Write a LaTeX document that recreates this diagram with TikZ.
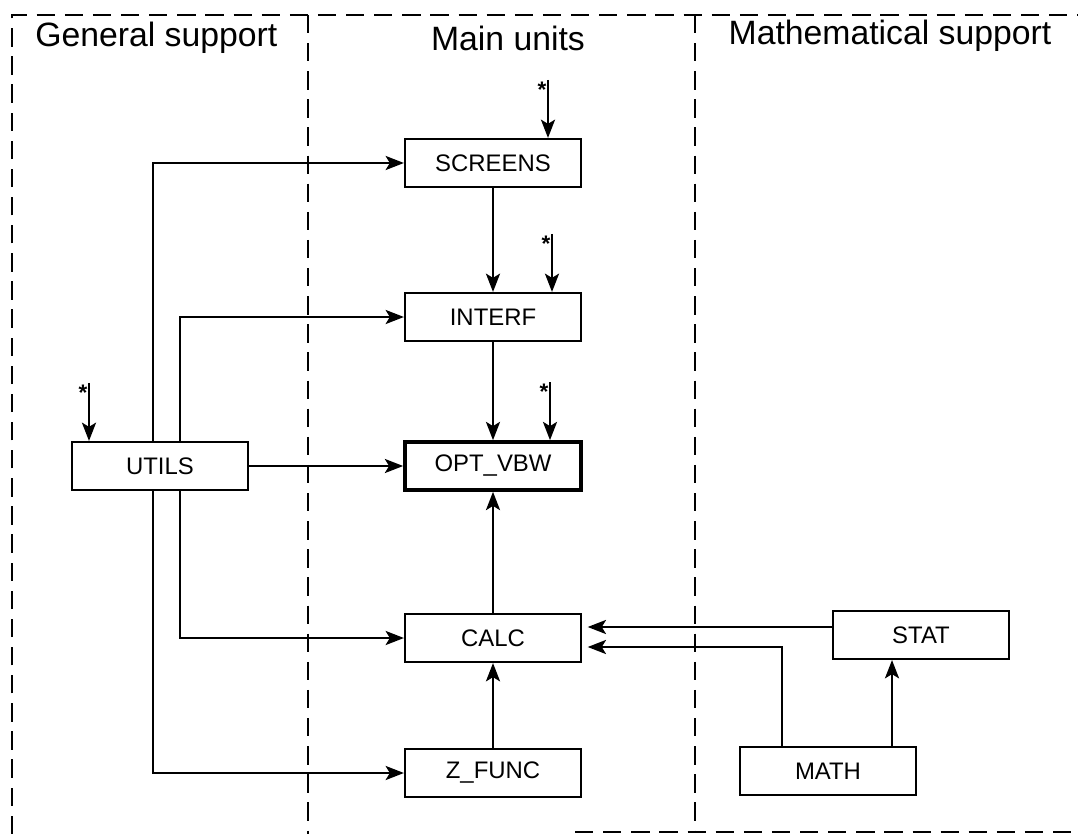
\documentclass[tikz,border=0pt]{standalone}
\usepackage{fontspec}
\setmainfont{Liberation Sans}
\usepackage{tikz}
\usetikzlibrary{arrows.meta}
\usetikzlibrary{calc}

\tikzset{
    area/.style={line width=1.6pt, dash pattern=on 13pt off 7pt},
    title/.style={font=\fontsize{24}{28}\selectfont, inner sep=0pt},
    unit/.style={draw, line width=1.5pt, minimum width=4.4cm, minimum height=1.2cm,
        inner sep=0pt, font=\fontsize{17}{20}\selectfont},
    arr/.style={line width=1.6pt, -{Stealth[length=13pt,width=10pt,inset=3pt]}},
    starlbl/.style={font=\fontsize{16}{16}\selectfont\bfseries, inner sep=1pt}
}

\begin{document}
\begin{tikzpicture}[x=0.025cm, y=-0.025cm]
                \useasboundingbox (0,0) rectangle (1078,834);
                % Areas
                \draw[area] (12,834) -- (12,15) -- (1078,15);
                \draw[area] (308,15) -- (308,834);
                \draw[area] (695,15) -- (695,832);
                \draw[area] (575,832) -- (1078,832);
                \node[title, anchor=west] (general) at (35,38) {General support};
                \node[title] (main) at (508,38) {Main units};
                \node[title] (mathsup) at (890,36) {Mathematical support};

                % Units
                \node[unit] (screens) at (493,163) {SCREENS};
                \node[unit] (interf) at (493,317) {INTERF};
                \node[unit, line width=2.6pt] (optvbw) at (493,466) {OPT\_VBW};
                \node[unit] (calc) at (493,638) {CALC};
                \node[unit] (zfunc) at (493,773) {Z\_FUNC};
                \node[unit] (utils) at (160,466) {UTILS};
                \node[unit] (stat) at (921,635) {STAT};
                \node[unit] (math) at (828,771) {MATH};

                % UTILS is used everywhere
                \draw[arr] ($(utils.north)+(-7,0)$) |- (screens.west);
                \draw[arr] ($(utils.north)+(20,0)$) |- (interf.west);
                \draw[arr] (utils) -- (optvbw);
                \draw[arr] ($(utils.south)+(20,0)$) |- (calc.west);
                \draw[arr] ($(utils.south)+(-7,0)$) |- (zfunc.west);

                % Main chain
                \draw[arr] (screens) -- (interf);
                \draw[arr] (interf) -- (optvbw);
                \draw[arr] (calc) -- (optvbw);
                \draw[arr] (zfunc) -- (calc);

                % Mathematical support
                \coordinate (statout) at ($(stat.west)+(0,-8)$);
                \draw[arr, shorten >=4pt] (statout) -- (statout -| calc.east);
                \coordinate (mathout) at ($(math.north)+(-46,0)$);
                \draw[arr, shorten >=4pt] (mathout) |- ($(calc.east)+(0,9)$);
                \coordinate (mathup) at ($(math.north)+(64,0)$);
                \draw[arr] (mathup) -- (mathup |- stat.south);

                % Outside callers
                \foreach \u/\dx in {screens/55, interf/59, optvbw/57, utils/-71} {
                    \coordinate (\u-in) at ($(\u.north)+(\dx,-58)$);
                    \draw[arr] (\u-in) -- (\u-in |- \u.north);
                    \node[starlbl, anchor=north east] at (\u-in) {*};
                }
            \end{tikzpicture}
\end{document}
